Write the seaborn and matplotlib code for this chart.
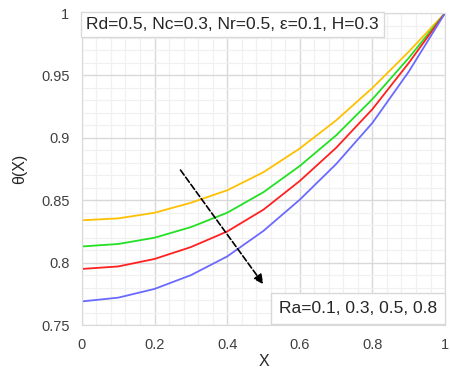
import numpy as np
import pandas as pd
import seaborn as sns
import matplotlib.pyplot as plt
from matplotlib.ticker import MultipleLocator

# values
x_vals = [0.0, 0.1, 0.2, 0.3, 0.4, 0.5, 0.6, 0.7, 0.8, 0.9, 1.0]
theta_ra_01 = [0.834, 0.8355, 0.840, 0.848, 0.858, 0.8725, 0.8915, 0.914, 0.940, 0.969, 1.0]
theta_ra_03 = [0.813, 0.815, 0.820, 0.8285, 0.840, 0.8565, 0.8775, 0.902, 0.931, 0.964, 1.0]
theta_ra_05 = [0.795, 0.797, 0.803, 0.8125, 0.825, 0.8425, 0.8655, 0.892, 0.923, 0.960, 1.0]
theta_ra_08 = [0.769, 0.772, 0.779, 0.790, 0.805, 0.8255, 0.8505, 0.879, 0.912, 0.953, 1.0]
ra_labels = ["Ra=0.1", "Ra=0.3", "Ra=0.5", "Ra=0.8"]
line_colors = ["#FFC000", "#22E022", "#FF2020", "#6A6AFF"]
x_ticks = [0, 0.2, 0.4, 0.6, 0.8, 1]
x_tick_labels = ["0", "0.2", "0.4", "0.6", "0.8", "1"]
y_ticks = [0.75, 0.8, 0.85, 0.9, 0.95, 1]
y_tick_labels = ["0.75", "0.8", "0.85", "0.9", "0.95", "1"]

df = pd.DataFrame({
    "X": x_vals * 4,
    "theta": theta_ra_01 + theta_ra_03 + theta_ra_05 + theta_ra_08,
    "Ra": sum([[lab] * len(x_vals) for lab in ra_labels], []),
})

sns.set_style("white")
plt.rcParams["font.family"] = ["Liberation Sans", "DejaVu Sans"]

fig = plt.figure(figsize=(4.5, 3.72), dpi=100)
ax = fig.add_axes([0.182, 0.126, 0.807, 0.839])

sns.lineplot(data=df, x="X", y="theta", hue="Ra", palette=line_colors,
             legend=False, linewidth=1.3, ax=ax)

ax.set_xlim(0, 1)
ax.set_ylim(0.75, 1)
ax.set_xticks(x_ticks, x_tick_labels)
ax.set_yticks(y_ticks, y_tick_labels)
ax.xaxis.set_minor_locator(MultipleLocator(0.04))
ax.yaxis.set_minor_locator(MultipleLocator(0.01))
ax.grid(which="major", color="#D9D9D9", linewidth=1.0)
ax.grid(which="minor", color="#F0F0F0", linewidth=0.9)
ax.set_axisbelow(True)
ax.tick_params(which="both", length=0, labelsize=10.5, colors="#404040", pad=9)
for sp in ax.spines.values():
    sp.set_color("#D9D9D9")

ax.set_xlabel("X", fontsize=11.5, color="#262626", labelpad=2)
ax.set_ylabel("θ(X)", fontsize=11.5, color="#262626", labelpad=10)

# trend arrow
ax.annotate("", xy=(0.504, 0.781), xytext=(0.267, 0.876),
            arrowprops=dict(arrowstyle="-|>", color="black", linestyle="--",
                            linewidth=1.2, mutation_scale=14))

box = dict(boxstyle="square,pad=0.3", facecolor="white", edgecolor="#D9D9D9")
ax.text(0.012, 0.987, "Rd=0.5, Nc=0.3, Nr=0.5, ε=0.1, H=0.3", fontsize=12.5,
        color="#262626", ha="left", va="top", bbox=box, transform=ax.transAxes)
box2 = dict(boxstyle="square,pad=0.45", facecolor="white", edgecolor="#D9D9D9")
ax.text(0.978, 0.03, "Ra=0.1, 0.3, 0.5, 0.8", fontsize=12.5,
        color="#262626", ha="right", va="bottom", bbox=box2, transform=ax.transAxes)

fig.savefig("out.png", dpi=100)
